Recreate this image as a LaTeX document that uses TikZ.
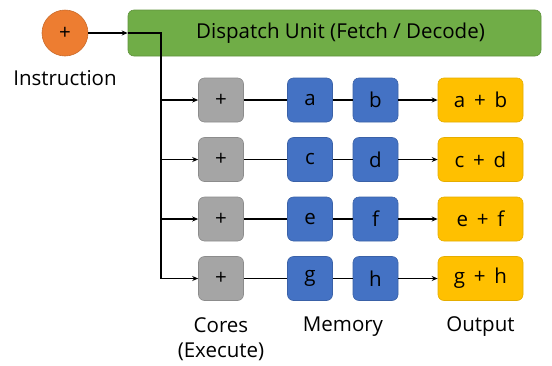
\documentclass[tikz,border=0pt]{standalone}
\usepackage{fontspec}
\setmainfont{Open Sans}
\usetikzlibrary{arrows.meta}
\definecolor{instrorange}{RGB}{237,125,49}
\definecolor{unitgreen}{RGB}{112,173,71}
\definecolor{coregray}{RGB}{165,165,165}
\definecolor{memblue}{RGB}{68,114,196}
\definecolor{outyellow}{RGB}{255,192,0}

\begin{document}
\begin{tikzpicture}[x=1pt,y=-1pt,
    font=\fontsize{20.5}{25}\selectfont,
    wire/.style={line width=1.3pt},
    tip/.style={wire,-{Stealth[length=6pt,width=5pt]}},
    cell/.style={rounded corners=6pt,minimum width=45pt,minimum height=44pt,inner sep=0pt,line width=0.6pt},
    core/.style={cell,fill=coregray,draw=coregray!85!black},
    mem/.style={cell,fill=memblue,draw=memblue!85!black},
    result/.style={cell,minimum width=85pt,fill=outyellow,draw=outyellow!90!black}]
  \useasboundingbox (0,0) rectangle (552,365);

  % instruction and dispatch unit
  \node[circle,fill=instrorange,draw=instrorange!85!black,line width=0.6pt,minimum size=46pt,inner sep=0pt] (instr) at (65,33) {+};
  \node (instrlabel) at (65,78) {Instruction};
  \node[rounded corners=6pt,fill=unitgreen,draw=unitgreen!85!black,line width=0.6pt,
        minimum width=413pt,minimum height=46pt] (dispatch) at (334.5,33) {\hspace*{12pt}Dispatch Unit (Fetch / Decode)};
  \draw[tip] (instr) -- (dispatch.west);

  % one row per core: core -> two operands -> result
  \foreach \i/\y/\p/\q in {1/100/a/b,2/159.5/c/d,3/219/e/f,4/278.5/g/h}{
    \coordinate (bus\i) at (161,\y);
    \node[core] (core\i) at (221,\y) {+};
    \node[mem] (opa\i) at (310,\y) {\p};
    \node[mem] (opb\i) at (375.5,\y) {\q};
    \node[result] (out\i) at (480.5,\y) {\p\ \,+\ \,\q};
    \draw[tip] (bus\i) -- (core\i);
    \draw[wire] (core\i) -- (opa\i) -- (opb\i);
    \draw[tip] (opb\i) -- (out\i);
  }
  \draw[wire] (dispatch.west) -| (bus4);

  % column labels
  \node[align=center] (coreslabel) at (221,339.5) {Cores\\(Execute)};
  \node (memlabel) at (343,327) {Memory};
  \node (outlabel) at (480.5,327) {Output};
\end{tikzpicture}
\end{document}
